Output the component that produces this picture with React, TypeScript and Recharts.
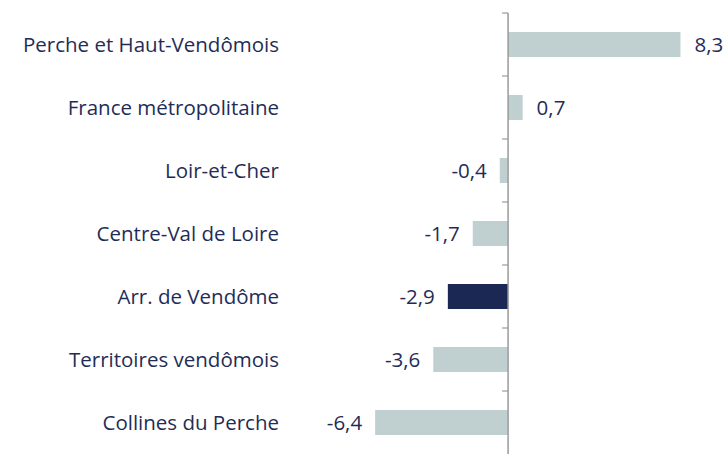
import React from 'react';
import { BarChart, Bar, XAxis, YAxis, Cell, LabelList, ReferenceLine } from 'recharts';

const categories = [
  'Perche et Haut-Vendômois',
  'France métropolitaine',
  'Loir-et-Cher',
  'Centre-Val de Loire',
  'Arr. de Vendôme',
  'Territoires vendômois',
  'Collines du Perche',
];
const values = [8.3, 0.7, -0.4, -1.7, -2.9, -3.6, -6.4];
const highlight = 'Arr. de Vendôme';

const data = categories.map((name, i) => ({ name, value: values[i] }));

const TEXT = '#1F2D56';
const FONT = '"Open Sans", sans-serif';
const FS = 20.5;

const fmt = (v: number) => v.toFixed(1).replace('.', ',');

const ValueLabel = (props: any) => {
  const { x, y, width, height, value } = props;
  const left = Math.min(x, x + width);
  const right = Math.max(x, x + width);
  const cy = y + height / 2;
  const pos = value >= 0;
  return (
    <text
      x={pos ? right + 14 : left - 13}
      y={cy}
      dy="0.355em"
      textAnchor={pos ? 'start' : 'end'}
      fill={TEXT}
      fontSize={FS}
      fontFamily={FONT}
    >
      {fmt(value)}
    </text>
  );
};

const ZeroAxis = (props: any) => {
  const { x1, y1, x2, y2 } = props;
  const n = categories.length;
  const top = Math.min(y1, y2);
  const bottom = Math.max(y1, y2);
  const step = (bottom - top) / n;
  const ticks = [];
  for (let i = 0; i < n; i++) {
    const ty = top + i * step;
    ticks.push(<line key={i} x1={x1 - 6} x2={x1} y1={ty} y2={ty} stroke="#9A9A9A" strokeWidth={1.2} />);
  }
  return (
    <g>
      <line x1={x1} x2={x2} y1={y1} y2={y2} stroke="#9A9A9A" strokeWidth={1.5} />
      {ticks}
    </g>
  );
};

export default function App() {
  return (
    <div style={{ position: 'absolute', left: 0, top: 0, width: 726, height: 455, background: '#fff' }}>
      <BarChart
        width={726}
        height={455}
        data={data}
        layout="vertical"
        margin={{ top: 13, right: 31, bottom: 1, left: 0 }}
        barSize={25}
      >
        <XAxis type="number" domain={[-10.5, 9]} hide allowDataOverflow />
        <YAxis
          type="category"
          dataKey="name"
          width={290}
          axisLine={false}
          tickLine={false}
          tickSize={0}
          tickMargin={11}
          interval={0}
          tick={{ fill: TEXT, fontSize: FS, fontFamily: FONT }}
        />
        <Bar dataKey="value" isAnimationActive={false}>
          {data.map((d) => (
            <Cell key={d.name} fill={d.name === highlight ? '#1B2854' : '#C0CFCF'} />
          ))}
          <LabelList dataKey="value" content={ValueLabel} />
        </Bar>
        <ReferenceLine x={0} shape={ZeroAxis} ifOverflow="extendDomain" />
      </BarChart>
    </div>
  );
}
